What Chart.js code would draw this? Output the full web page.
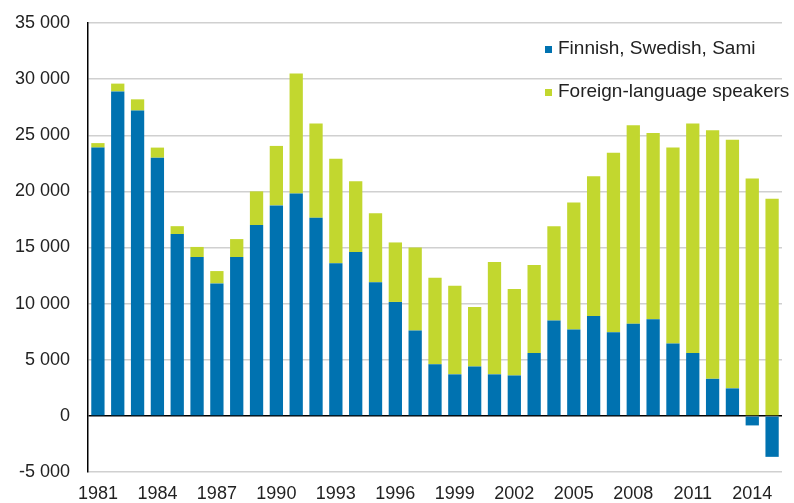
<!DOCTYPE html>
<html>
<head>
<meta charset="utf-8">
<script src="https://cdn.jsdelivr.net/npm/chart.js@4"></script>
<style>
  html, body { margin: 0; padding: 0; background: #fff; }
  #wrap { width: 794px; height: 503px; position: relative; }
</style>
</head>
<body>
<div id="wrap"><canvas id="chart"></canvas></div>
<script>
// years 1981..2015
const years = [];
for (let y = 1981; y <= 2015; y++) years.push(String(y));

const domestic = [23.9, 28.9, 27.2, 23.0, 16.2, 14.15, 11.8, 14.15, 17.0, 18.75,
  19.8, 17.65, 13.6, 14.6, 11.9, 10.15, 7.6, 4.6, 3.7, 4.4,
  3.7, 3.6, 5.6, 8.5, 7.7, 8.9, 7.45, 8.2, 8.6, 6.45,
  5.6, 3.3, 2.45, -0.85, -3.65].map(v => v * 1000);

const foreign = [0.4, 0.7, 1.0, 0.9, 0.7, 0.9, 1.1, 1.6, 3.0, 5.3,
  10.7, 8.4, 9.3, 6.3, 6.15, 5.3, 7.4, 7.7, 7.9, 5.3,
  10.0, 7.7, 7.85, 8.4, 11.3, 12.45, 16.0, 17.7, 16.6, 17.45,
  20.45, 22.15, 22.15, 21.15, 19.35].map(v => v * 1000);

const seriesNames = ['Finnish, Swedish, Sami', 'Foreign-language speakers'];
const colors = ['#0072b0', '#c2d72f'];

const fmt = v => {
  const s = String(Math.abs(v)).replace(/\B(?=(\d{3})+(?!\d))/g, ' ');
  return (v < 0 ? '-' : '') + s;
};

// legend drawn inside the plot, top right
const legendPlugin = {
  id: 'innerLegend',
  afterDraw(chart) {
    const ctx = chart.ctx;
    ctx.save();
    ctx.font = '19px "Liberation Sans", Arial, sans-serif';
    ctx.textBaseline = 'middle';
    seriesNames.forEach((name, i) => {
      const y = 49 + i * 43;
      ctx.fillStyle = colors[i];
      ctx.fillRect(545, y - 3, 7, 7);
      ctx.fillStyle = '#222';
      ctx.fillText(name, 558, y);
    });
    ctx.restore();
  }
};

new Chart(document.getElementById('chart'), {
  type: 'bar',
  data: {
    labels: years,
    datasets: [
      { label: seriesNames[0], data: domestic, backgroundColor: colors[0], barPercentage: 0.67, categoryPercentage: 1 },
      { label: seriesNames[1], data: foreign, backgroundColor: colors[1], barPercentage: 0.67, categoryPercentage: 1 }
    ]
  },
  options: {
    responsive: true,
    maintainAspectRatio: false,
    animation: false,
    layout: { padding: { top: 23, right: 12, left: 0, bottom: 0 } },
    plugins: {
      legend: { display: false },
      tooltip: { enabled: false }
    },
    scales: {
      x: {
        stacked: true,
        grid: { display: false },
        border: { display: false },
        ticks: {
          autoSkip: false,
          maxRotation: 0,
          color: '#222',
          font: { size: 18, family: '"Liberation Sans", Arial, sans-serif' },
          padding: 3,
          callback: function (val, idx) {
            return idx % 3 === 0 ? this.getLabelForValue(val) : '';
          }
        },
        afterFit(scale) { scale.height = 31; }
      },
      y: {
        stacked: true,
        min: -5000,
        max: 35000,
        grid: {
          color: ctx => ctx.tick && ctx.tick.value === 0 ? '#000' : '#d0d0d0',
          lineWidth: 1.5,
          drawTicks: false
        },
        border: { display: true, color: '#000', width: 1.5 },
        ticks: {
          stepSize: 5000,
          color: '#222',
          padding: 18,
          font: { size: 18, family: '"Liberation Sans", Arial, sans-serif' },
          callback: v => fmt(v)
        },
        afterFit(scale) {
          scale.width = 88;
          scale.paddingTop = 0;
          scale.paddingBottom = 0;
        }
      }
    }
  },
  plugins: [legendPlugin]
});
</script>
</body>
</html>
